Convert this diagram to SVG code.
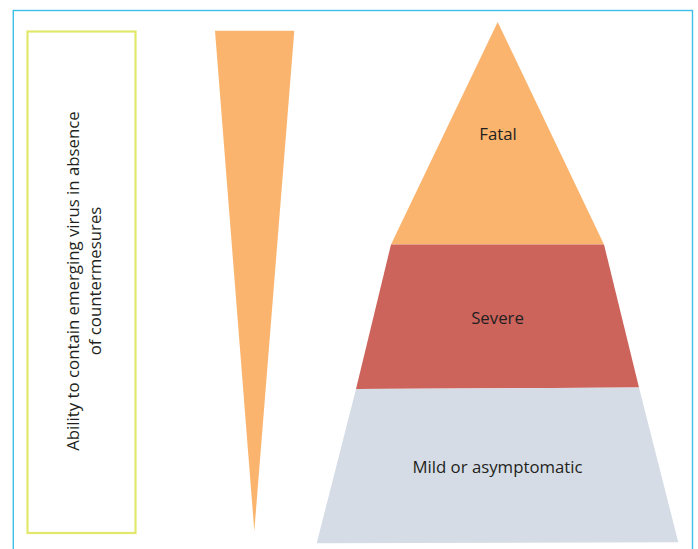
<svg xmlns="http://www.w3.org/2000/svg" width="698" height="549" viewBox="0 0 698 549">
<style>
.lbl{font-family:"Open Sans","Noto Sans","Liberation Sans",sans-serif;font-size:16.8px;fill:#231f20;text-anchor:middle}
</style>
<rect x="0" y="0" width="698" height="549" fill="#ffffff"/>
<rect id="frame" x="13.3" y="10.5" width="679.2" height="560" fill="none" stroke="#3cbfe8" stroke-width="1.4"/>
<g id="label-box">
<rect x="27.5" y="31.5" width="108" height="501.5" fill="#ffffff" stroke="#e1e86c" stroke-width="2.2"/>
<text class="lbl" transform="translate(79,281) rotate(-90)"><tspan x="0" y="0">Ability to contain emerging virus in absence</tspan><tspan x="0" y="21.5">of countermesures</tspan></text>
</g>
<g id="wedge">
<polygon points="215,30.7 294.3,30.7 254.3,531" fill="#fab46e"/>
</g>
<g id="fatal">
<polygon points="497.7,22 604,244.6 391,244.6" fill="#fab46e"/>
<text class="lbl" x="498" y="140">Fatal</text>
</g>
<g id="severe">
<polygon points="391,244.5 604,244.5 639,387.5 356,389" fill="#cc645c"/>
<text class="lbl" x="497.5" y="323.5">Severe</text>
</g>
<g id="mild">
<polygon points="356,389 639,387.5 678.3,542.3 316.7,543.3" fill="#d5dce6"/>
<text class="lbl" x="497.5" y="473.3">Mild or asymptomatic</text>
</g>
<g id="connectors"/>
</svg>
